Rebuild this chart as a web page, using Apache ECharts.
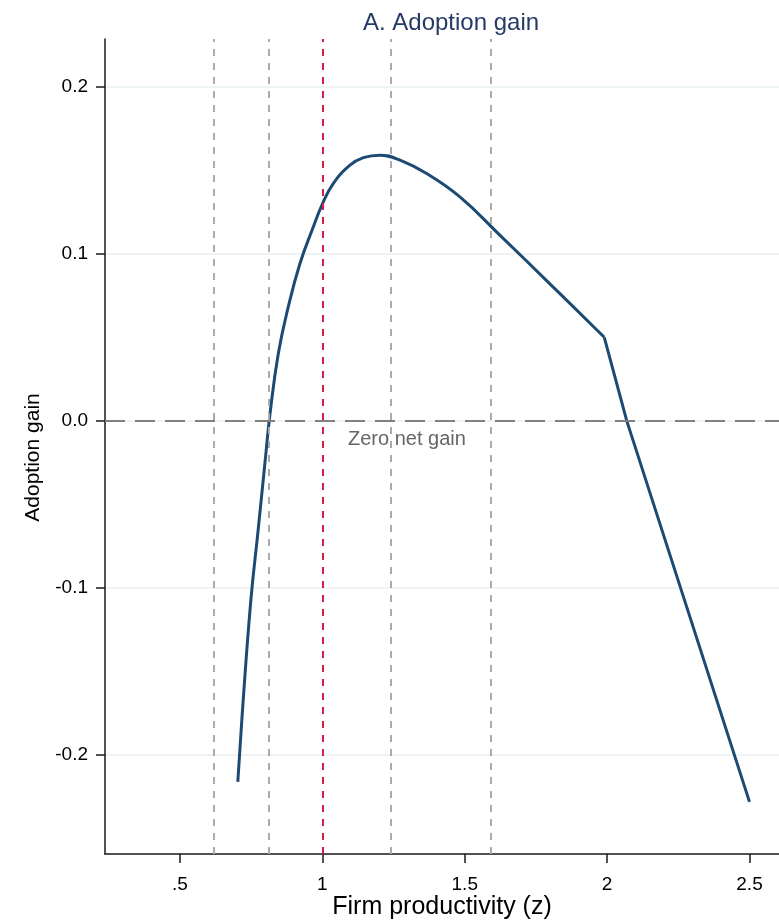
<!DOCTYPE html>
<html>
<head>
<meta charset="utf-8">
<script src="https://cdn.jsdelivr.net/npm/echarts@6/dist/echarts.min.js"></script>
<style>
  html, body { margin: 0; padding: 0; background: #fff; }
  #chart { width: 779px; height: 921px; }
</style>
</head>
<body>
<div id="chart"></div>
<script>
// Firm productivity (z) and the corresponding adoption gain
const productivity = [0.703, 0.722, 0.749, 0.774, 0.799, 0.816, 0.845, 0.880, 0.921, 0.968,
  0.998, 1.038, 1.097, 1.144, 1.202, 1.273, 1.366, 1.483, 1.624, 1.799, 1.990, 2.069, 2.500];
const adoptionGain = [-0.216, -0.167, -0.107, -0.066, -0.024, 0.004, 0.040, 0.068, 0.094, 0.116,
  0.129, 0.142, 0.153, 0.1575, 0.159, 0.156, 0.148, 0.134, 0.111, 0.082, 0.050, 0.000, -0.228];
// productivity at which the gain schedule turns linear
const kinkZ = 1.990;

// Reference productivity levels
const greyCutoffs = [0.623, 0.810, 1.235, 1.595];
const baselineZ = 1.0;
const zeroLevel = 0;

// Axis ticks
const xTicks = [0.5, 1, 1.5, 2, 2.5];
const xTickLabels = ['.5', '1', '1.5', '2', '2.5'];
const yTicks = [-0.2, -0.1, 0, 0.1, 0.2];
const yTickLabels = ['-0.2', '-0.1', '0.0', '0.1', '0.2'];

const FONT = 'Liberation Sans, Arial, Helvetica, sans-serif';
const CURVE = { color: '#1d4a73', width: 3 };

const chart = echarts.init(document.getElementById('chart'), null, { renderer: 'canvas' });

const points = productivity.map((z, i) => [z, adoptionGain[i]]);
const kinkIdx = productivity.indexOf(kinkZ);
const curvedPart = points.slice(0, kinkIdx + 1);
const linearPart = points.slice(kinkIdx);

const pickLabel = (ticks, labels) => v => {
  const i = ticks.findIndex(t => Math.abs(t - v) < 1e-9);
  return i >= 0 ? labels[i] : '';
};

chart.setOption({
  backgroundColor: '#ffffff',
  animation: false,
  title: {
    text: 'A. Adoption gain',
    left: 446,
    top: 6,
    textAlign: 'center',
    textStyle: { color: '#263a66', fontSize: 24, fontWeight: 'normal', fontFamily: FONT }
  },
  grid: { left: 105, right: 0, top: 39, bottom: 67, containLabel: false, outerBoundsMode: 'none' },
  xAxis: {
    type: 'value',
    min: 0.2366,
    max: 2.6036,
    name: 'Firm productivity (z)',
    nameLocation: 'middle',
    nameGap: 41,
    nameMoveOverlap: false,
    nameTextStyle: { color: '#000', fontSize: 25, fontFamily: FONT },
    axisLine: { onZero: false, lineStyle: { color: '#1a1a1a', width: 1.5 } },
    axisTick: { show: true, length: 9, customValues: xTicks, lineStyle: { color: '#1a1a1a', width: 1.5 } },
    axisLabel: {
      customValues: xTicks,
      margin: 21,
      color: '#000',
      fontSize: 19,
      fontFamily: FONT,
      formatter: pickLabel(xTicks, xTickLabels)
    },
    splitLine: { show: false }
  },
  yAxis: {
    type: 'value',
    min: -0.2592,
    max: 0.2285,
    name: 'Adoption gain',
    nameLocation: 'middle',
    nameGap: 61,
    nameMoveOverlap: false,
    nameTextStyle: { color: '#000', fontSize: 21, fontFamily: FONT, padding: [0, 22, 0, 0] },
    axisLine: { show: true, onZero: false, lineStyle: { color: '#1a1a1a', width: 1.5 } },
    axisTick: { show: true, length: 9, customValues: yTicks, lineStyle: { color: '#1a1a1a', width: 1.5 } },
    axisLabel: {
      customValues: yTicks,
      margin: 17,
      color: '#000',
      fontSize: 19,
      fontFamily: FONT,
      formatter: pickLabel(yTicks, yTickLabels)
    },
    splitLine: { show: true, lineStyle: { color: '#e9eff1', width: 1.5 } }
  },
  series: [
    {
      // reference lines underneath the curve
      type: 'line',
      data: [],
      z: 1,
      silent: true,
      markLine: {
        silent: true,
        symbol: 'none',
        label: { show: false },
        data: [
          ...greyCutoffs.map(v => ({ xAxis: v, lineStyle: { color: '#ababab', width: 2, type: [7, 7] } })),
          { xAxis: baselineZ, lineStyle: { color: '#d11f4b', width: 2, type: [7, 7] } },
          { yAxis: zeroLevel, lineStyle: { color: '#808080', width: 2, type: [20, 10] } }
        ]
      },
      markPoint: {
        silent: true,
        symbolSize: 0,
        data: [{ coord: [1.09, zeroLevel] }],
        label: {
          show: true,
          formatter: 'Zero net gain',
          position: [0, 9],
          color: '#666666',
          fontSize: 20,
          fontFamily: FONT
        }
      }
    },
    {
      type: 'line',
      data: curvedPart,
      z: 3,
      smooth: 0.45,
      showSymbol: false,
      symbol: 'none',
      lineStyle: CURVE
    },
    {
      type: 'line',
      data: linearPart,
      z: 3,
      smooth: false,
      showSymbol: false,
      symbol: 'none',
      lineStyle: CURVE
    }
  ]
});
</script>
</body>
</html>
